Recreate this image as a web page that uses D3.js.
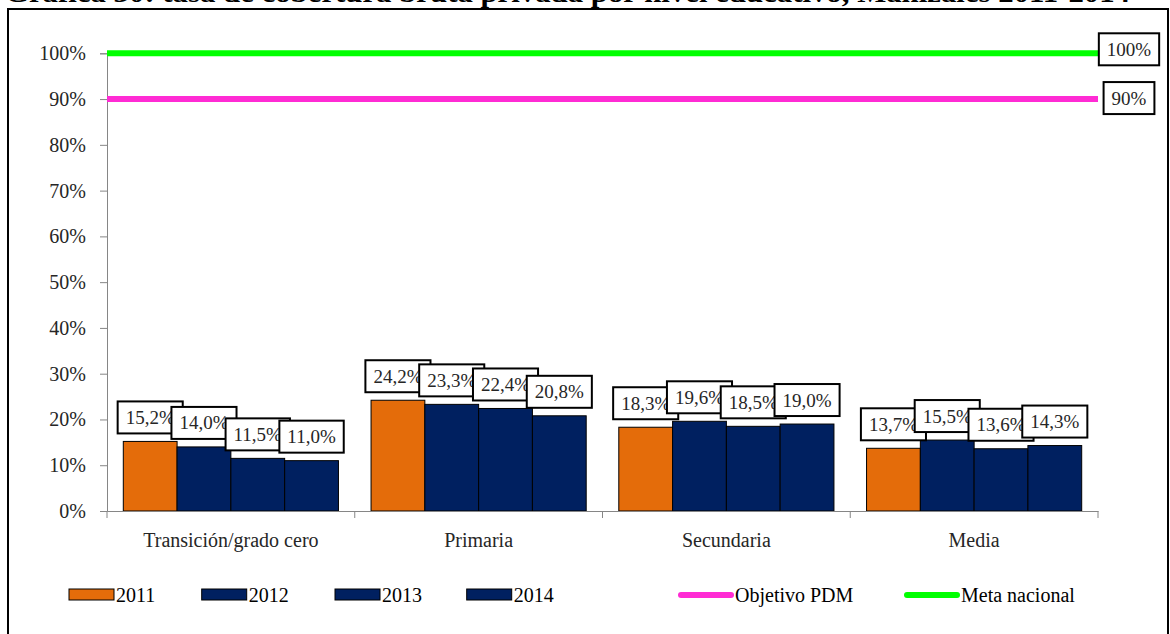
<!DOCTYPE html>
<html>
<head>
<meta charset="utf-8">
<script src="https://cdn.jsdelivr.net/npm/d3@7"></script>
<style>
  body { margin: 0; background: #fff; }
  text { font-family: "Liberation Serif", "Times New Roman", serif; }
</style>
</head>
<body>
<div id="chart"></div>
<script>
// data
const categories = ["Transición/grado cero", "Primaria", "Secundaria", "Media"];
const years = ["2011", "2012", "2013", "2014"];
const values = {
    "2011": [15.2, 24.2, 18.3, 13.7],
    "2012": [14.0, 23.3, 19.6, 15.5],
    "2013": [11.5, 22.4, 18.5, 13.6],
    "2014": [11.0, 20.8, 19.0, 14.3]
};
const yTicks = [0, 10, 20, 30, 40, 50, 60, 70, 80, 90, 100];
const targetNames = ["Objetivo PDM", "Meta nacional"];
const targetValues = [90, 100];

const barColors = { "2011": "#e46c0a", "2012": "#002060", "2013": "#002060", "2014": "#002060" };
const lineColors = { "Objetivo PDM": "#ff2bd4", "Meta nacional": "#00ff00" };

chart();

function chart() {
    let W = 1170, H = 634;
    let svg = d3.select("#chart").append("svg")
        .attr("width", W)
        .attr("height", H);

    // title, mostly cut off at top
    svg.append("text")
        .attr("x", 5)
        .attr("y", 2)
        .attr("textLength", 1125)
        .attr("lengthAdjust", "spacingAndGlyphs")
        .style("font-size", "28px")
        .style("font-weight", "bold")
        .text("Gráfica 30: tasa de cobertura bruta privada por nivel educativo, Manizales 2011-2014");

    // outer frame
    svg.append("rect")
        .attr("x", 8).attr("y", 9)
        .attr("width", 1160).attr("height", 640)
        .attr("fill", "none")
        .attr("stroke", "#000")
        .attr("stroke-width", 2);

    let left = 107, right = 1098, top = 53.3, bottom = 511;

    let x = d3.scaleBand()
        .domain(categories)
        .range([left, right]);
    let xs = d3.scaleBand()
        .domain(years)
        .range([16.3, x.bandwidth() - 16.3]);
    let y = d3.scaleLinear()
        .domain([0, 100])
        .range([bottom, top]);

    // y axis
    let yAxis = svg.append("g")
        .attr("transform", "translate(" + left + ",0)")
        .call(d3.axisLeft(y).tickValues(yTicks).tickSize(7).tickPadding(14)
            .tickFormat(d => d + "%"));
    yAxis.select(".domain").attr("stroke", "#868686");
    yAxis.selectAll(".tick line").attr("stroke", "#868686");
    yAxis.selectAll(".tick text")
        .style("font-size", "20px")
        .attr("fill", "#262626")
        .style("font-family", "Liberation Serif");

    // bars
    years.forEach(yr => {
        svg.selectAll(null)
            .data(categories)
            .enter()
            .append("rect")
            .attr("x", (c) => x(c) + xs(yr))
            .attr("width", xs.bandwidth())
            .attr("y", (c, i) => y(values[yr][i]))
            .attr("height", (c, i) => bottom - y(values[yr][i]))
            .attr("fill", barColors[yr])
            .attr("stroke", "#000")
            .attr("stroke-width", 1);
    });

    // x axis
    let xAxis = svg.append("g")
        .attr("transform", "translate(0," + bottom + ")")
        .call(d3.axisBottom(x).tickSize(0).tickPadding(22));
    xAxis.select(".domain").attr("stroke", "#868686");
    xAxis.selectAll(".tick text")
        .style("font-size", "20px")
        .attr("fill", "#262626")
        .style("font-family", "Liberation Serif");
    // ticks between categories
    let edges = categories.map(c => x(c)).concat([right]);
    svg.selectAll(null)
        .data(edges)
        .enter()
        .append("line")
        .attr("x1", d => d).attr("x2", d => d)
        .attr("y1", bottom).attr("y2", bottom + 7)
        .attr("stroke", "#868686");

    // target lines
    targetNames.forEach((n, i) => {
        svg.append("line")
            .attr("x1", left).attr("x2", right)
            .attr("y1", y(targetValues[i])).attr("y2", y(targetValues[i]))
            .attr("stroke", lineColors[n])
            .attr("stroke-width", 6);
    });

    // labelled box helper
    function labelBox(cx, cy, txt) {
        let g = svg.append("g");
        let r = g.append("rect")
            .attr("fill", "#fff")
            .attr("stroke", "#000")
            .attr("stroke-width", 2);
        let t = g.append("text")
            .attr("x", cx)
            .attr("y", cy + 6.5)
            .attr("text-anchor", "middle")
            .style("font-size", "19px")
            .attr("fill", "#262626")
            .text(txt);
        let w = t.node().getComputedTextLength() + 16;
        r.attr("x", cx - w / 2).attr("y", cy - 16)
            .attr("width", w).attr("height", 32);
    }

    years.forEach(yr => {
        categories.forEach((c, i) => {
            let v = values[yr][i];
            labelBox(x(c) + xs(yr) + xs.bandwidth() / 2, y(v) - 24,
                v.toFixed(1).replace(".", ",") + "%");
        });
    });

    labelBox(1129, y(targetValues[0]) - 1, targetValues[0] + "%");
    labelBox(1129, y(targetValues[1]) - 4, targetValues[1] + "%");

    // legend
    let ly = 595;
    let barItems = [69, 201.7, 335, 466.7];
    years.forEach((yr, i) => {
        svg.append("rect")
            .attr("x", barItems[i]).attr("y", ly - 6)
            .attr("width", 45).attr("height", 11)
            .attr("fill", barColors[yr])
            .attr("stroke", "#000");
        svg.append("text")
            .attr("x", barItems[i] + 47).attr("y", ly + 6.5)
            .style("font-size", "20px")
            .attr("fill", "#000")
            .text(yr);
    });
    let lineItems = [681, 907];
    targetNames.forEach((n, i) => {
        svg.append("line")
            .attr("x1", lineItems[i]).attr("x2", lineItems[i] + 50)
            .attr("y1", ly).attr("y2", ly)
            .attr("stroke", lineColors[n])
            .attr("stroke-width", 6)
            .attr("stroke-linecap", "round");
        svg.append("text")
            .attr("x", lineItems[i] + 54).attr("y", ly + 6.5)
            .style("font-size", "20px")
            .attr("fill", "#000")
            .text(n);
    });
}
</script>
</body>
</html>
